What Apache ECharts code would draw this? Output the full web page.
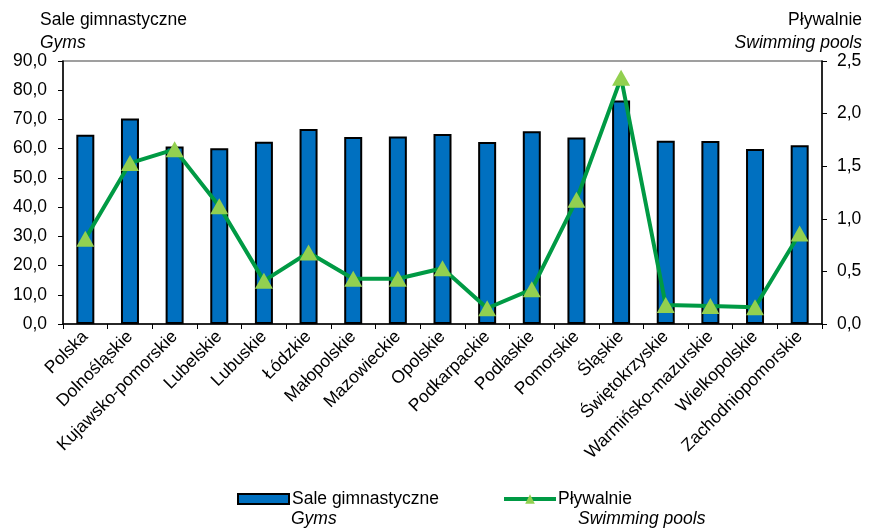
<!DOCTYPE html>
<html>
<head>
<meta charset="utf-8">
<script src="https://cdn.jsdelivr.net/npm/echarts@6/dist/echarts.min.js"></script>
<style>
  html, body { margin: 0; padding: 0; background: #fff; }
  #chart { width: 869px; height: 529px; }
</style>
</head>
<body>
<div id="chart"></div>
<script>
const regions = ['Polska', 'Dolnośląskie', 'Kujawsko-pomorskie', 'Lubelskie', 'Lubuskie', 'Łódzkie',
  'Małopolskie', 'Mazowieckie', 'Opolskie', 'Podkarpackie', 'Podlaskie', 'Pomorskie', 'Śląskie',
  'Świętokrzyskie', 'Warmińsko-mazurskie', 'Wielkopolskie', 'Zachodniopomorskie'];
const gyms = [64.8, 70.3, 60.7, 60.1, 62.4, 66.7, 64.0, 64.2, 65.0, 62.3, 66.0, 63.8, 76.5, 62.7, 62.6, 59.9, 61.2];
const pools = [0.81, 1.53, 1.66, 1.12, 0.41, 0.68, 0.43, 0.43, 0.53, 0.15, 0.33, 1.18, 2.34, 0.18, 0.17, 0.16, 0.86];

const font = 'Liberation Sans, Arial, sans-serif';
const fs = 17.5;
const chart = echarts.init(document.getElementById('chart'));

function comma(v, d) {
  return v.toFixed(d).replace('.', ',');
}

chart.setOption({
  animation: false,
  textStyle: { fontFamily: font, color: '#000' },
  grid: {
    left: 63, right: 47, top: 61, bottom: 205,
    show: true, borderColor: '#808080', borderWidth: 1.5
  },
  graphic: [
    { type: 'text', left: 40, top: 11, style: { text: 'Sale gimnastyczne', font: fs + 'px ' + font, fill: '#000' } },
    { type: 'text', left: 40, top: 34, style: { text: 'Gyms', font: 'italic ' + fs + 'px ' + font, fill: '#000' } },
    { type: 'text', right: 7, top: 11, style: { text: 'Pływalnie', font: fs + 'px ' + font, fill: '#000', align: 'right' } },
    { type: 'text', right: 7, top: 34, style: { text: 'Swimming pools', font: 'italic ' + fs + 'px ' + font, fill: '#000', align: 'right' } },
    { type: 'text', left: 291, top: 510, style: { text: 'Gyms', font: 'italic ' + fs + 'px ' + font, fill: '#000' } },
    { type: 'text', left: 578, top: 510, style: { text: 'Swimming pools', font: 'italic ' + fs + 'px ' + font, fill: '#000' } }
  ],
  legend: [
    {
      data: [{ name: 'Sale gimnastyczne', icon: 'rect' }],
      left: 232, top: 485,
      itemWidth: 51, itemHeight: 10, itemGap: 5,
      textStyle: { fontSize: fs, fontFamily: font, color: '#000', padding: [0, 0, 0, -2] }
    },
    {
      data: ['Pływalnie'],
      left: 497, top: 485,
      itemWidth: 52, itemHeight: 12,
      lineStyle: { width: 4 },
      textStyle: { fontSize: fs, fontFamily: font, color: '#000', padding: [0, 0, 0, -3] }
    }
  ],
  xAxis: {
    type: 'category',
    data: regions,
    axisLine: { lineStyle: { color: '#000', width: 1.5 } },
    axisTick: { show: true, length: 5, lineStyle: { color: '#000' } },
    axisLabel: { rotate: 45, fontSize: fs, color: '#000', fontFamily: font, margin: 10, interval: 0 }
  },
  yAxis: [
    {
      type: 'value', min: 0, max: 90, interval: 10,
      axisLine: { show: true, lineStyle: { color: '#000', width: 1.5 } },
      axisTick: { show: true, length: 5, lineStyle: { color: '#000' } },
      splitLine: { show: false },
      axisLabel: { fontSize: fs, color: '#000', fontFamily: font, margin: 16, formatter: v => comma(v, 1) }
    },
    {
      type: 'value', min: 0, max: 2.5, interval: 0.5,
      axisLine: { show: true, lineStyle: { color: '#000', width: 1.5 } },
      axisTick: { show: true, length: 5, lineStyle: { color: '#000' } },
      splitLine: { show: false },
      axisLabel: { fontSize: fs, color: '#000', fontFamily: font, margin: 15, formatter: v => comma(v, 1) }
    }
  ],
  series: [
    {
      name: 'Sale gimnastyczne',
      type: 'bar',
      data: gyms,
      barWidth: 18,
      itemStyle: { color: '#0070C0', borderColor: '#000', borderWidth: 2 }
    },
    {
      name: 'Pływalnie',
      type: 'line',
      yAxisIndex: 1,
      data: pools,
      symbol: 'triangle',
      symbolSize: [18, 16],
      lineStyle: { color: '#009A44', width: 4 },
      itemStyle: { color: '#92D050' },
      z: 5
    }
  ]
});
</script>
</body>
</html>
